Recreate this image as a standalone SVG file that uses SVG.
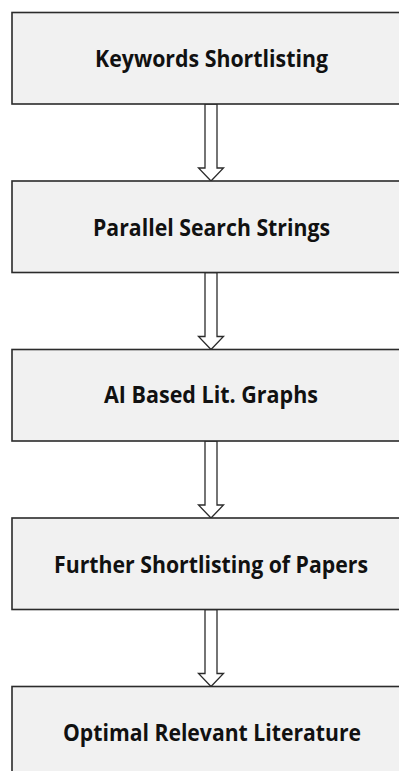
<svg xmlns="http://www.w3.org/2000/svg" width="399" height="771" viewBox="0 0 399 771">
  <style>
    .box { fill: #f1f1f1; stroke: #2b2b2b; stroke-width: 1.6; }
    .lbl { font-family: "Open Sans", "Noto Sans", "Liberation Sans", sans-serif; font-weight: 700; font-size: 22.5px; fill: #111; text-anchor: middle; }
    .arrow { fill: #ffffff; stroke: #2b2b2b; stroke-width: 1.3; stroke-linejoin: miter; }
  </style>
  <defs>
    <!-- block arrow between two stages, origin at the lower edge of the upper box -->
    <path id="blockArrow" class="arrow" d="M205,0 L217,0 L217,64 L223.5,64 L211,77 L198.5,64 L205,64 Z"/>
  </defs>
  <rect width="399" height="771" fill="#ffffff"/>

  <g id="connectors">
    <use href="#blockArrow" transform="translate(0,104)"/>
    <use href="#blockArrow" transform="translate(0,272.5)"/>
    <use href="#blockArrow" transform="translate(0,441)"/>
    <use href="#blockArrow" transform="translate(0,609.5)"/>
  </g>

  <g id="keywords-shortlisting">
    <rect class="box" x="12" y="12.5" width="400" height="91.5"/>
    <text class="lbl" x="211.5" y="67" textLength="233" lengthAdjust="spacingAndGlyphs">Keywords Shortlisting</text>
  </g>
  <g id="parallel-search-strings">
    <rect class="box" x="12" y="181" width="400" height="91.5"/>
    <text class="lbl" x="211.5" y="235.5" textLength="237" lengthAdjust="spacingAndGlyphs">Parallel Search Strings</text>
  </g>
  <g id="ai-based-lit-graphs">
    <rect class="box" x="12" y="349.5" width="400" height="91.5"/>
    <text class="lbl" x="211" y="403" textLength="214" lengthAdjust="spacingAndGlyphs">AI Based Lit. Graphs</text>
  </g>
  <g id="further-shortlisting">
    <rect class="box" x="12" y="518" width="400" height="91.5"/>
    <text class="lbl" x="211" y="572.5" textLength="314" lengthAdjust="spacingAndGlyphs">Further Shortlisting of Papers</text>
  </g>
  <g id="optimal-relevant-literature">
    <rect class="box" x="12" y="686.5" width="400" height="91.5"/>
    <text class="lbl" x="212" y="740.5" textLength="298" lengthAdjust="spacingAndGlyphs">Optimal Relevant Literature</text>
  </g>
</svg>
